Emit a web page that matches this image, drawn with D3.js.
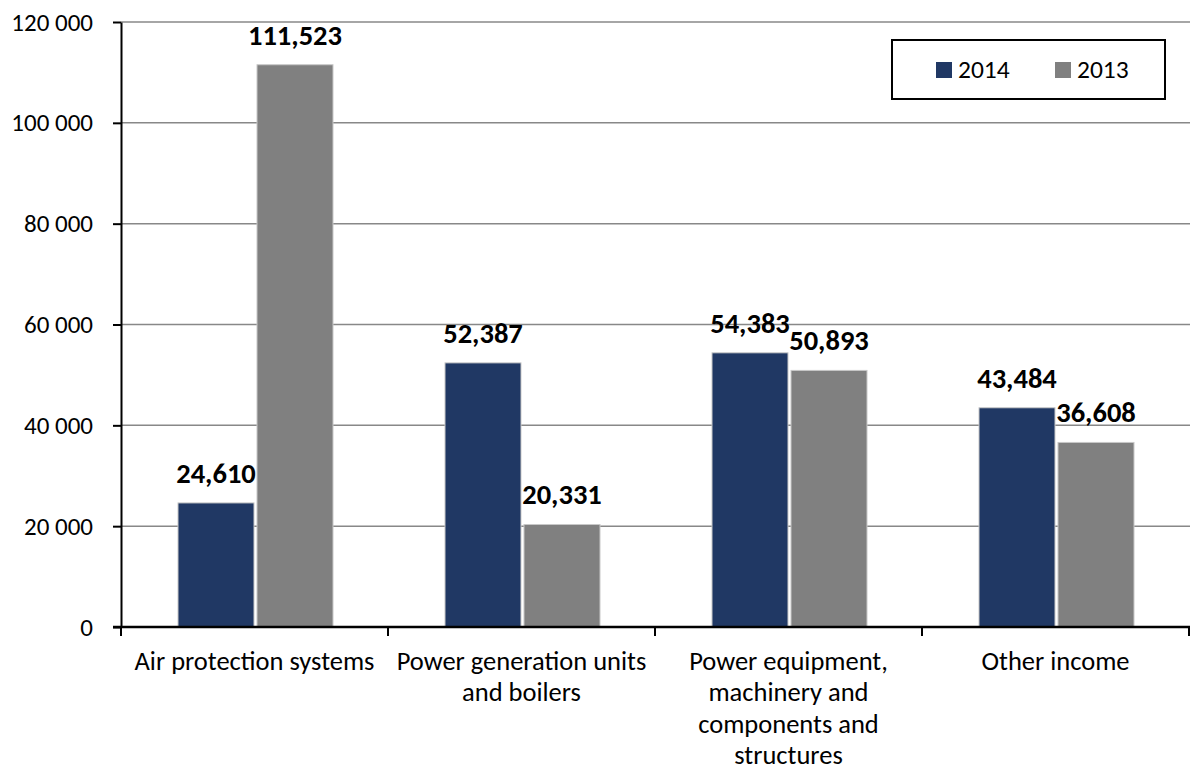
<!DOCTYPE html>
<html lang="en">
  <head>
    <meta charset="UTF-8" />
    <script src="https://cdn.jsdelivr.net/npm/d3@7"></script>
    <title>Revenue by segment</title>
    <style>
      body {
        margin: 0;
        background: #fff;
      }
      svg text {
        font-family: Carlito, 'Open Sans', sans-serif;
        fill: #000;
      }
    </style>
  </head>
  <body>
    <script>
      // data
      var categories = [
        'Air protection systems',
        'Power generation units\nand boilers',
        'Power equipment,\nmachinery and\ncomponents and\nstructures',
        'Other income'
      ]
      var series = ['2014', '2013']
      var values2014 = [24610, 52387, 54383, 43484]
      var values2013 = [111523, 20331, 50893, 36608]
      var yTicks = [0, 20000, 40000, 60000, 80000, 100000, 120000]
      var colors = ['#203864', '#808080']

      var width = 1190
      var height = 771

      var svg = d3
        .select('body')
        .append('svg')
        .attr('width', width)
        .attr('height', height)

      var x0 = d3.scaleBand().domain(categories).range([121, 1189]).padding(0)
      var x1 = d3
        .scaleBand()
        .domain(series)
        .range([57, 212])
        .paddingInner(0.038)
      var y = d3.scaleLinear().domain([0, 120000]).range([627, 22])

      var spaceFmt = d3.formatLocale({
        decimal: '.',
        thousands: ' ',
        grouping: [3],
        currency: ['', '']
      }).format(',d')
      var labelFmt = d3.format(',')

      // gridlines
      svg
        .append('g')
        .selectAll('line')
        .data(yTicks.slice(1))
        .enter()
        .append('line')
        .attr('x1', 121)
        .attr('x2', width)
        .attr('y1', function (d) { return y(d) })
        .attr('y2', function (d) { return y(d) })
        .attr('stroke', '#888')
        .attr('stroke-width', 1.5)

      // bars
      var rows = categories.map(function (c, i) {
        return { cat: c, vals: [values2014[i], values2013[i]] }
      })

      var groups = svg
        .selectAll('.grp')
        .data(rows)
        .enter()
        .append('g')
        .attr('class', 'grp')
        .attr('transform', function (d) {
          return 'translate(' + x0(d.cat) + ',0)'
        })

      groups
        .selectAll('rect')
        .data(function (d) {
          return d.vals.map(function (v, j) {
            return { s: series[j], v: v, j: j }
          })
        })
        .enter()
        .append('rect')
        .attr('x', function (d) { return x1(d.s) })
        .attr('y', function (d) { return y(d.v) })
        .attr('width', x1.bandwidth())
        .attr('height', function (d) { return y(0) - y(d.v) })
        .attr('fill', function (d) { return colors[d.j] })
        .attr('stroke', '#c8c8c8')
        .attr('stroke-width', 1)

      groups
        .selectAll('text')
        .data(function (d) {
          return d.vals.map(function (v, j) {
            return { s: series[j], v: v }
          })
        })
        .enter()
        .append('text')
        .attr('x', function (d) { return x1(d.s) + x1.bandwidth() / 2 })
        .attr('y', function (d) { return y(d.v) - 20 })
        .attr('text-anchor', 'middle')
        .attr('font-size', 28.5)
        .attr('font-weight', 'bold')
        .text(function (d) { return labelFmt(d.v) })

      // y axis
      var yAxis = d3
        .axisLeft(y)
        .tickValues(yTicks)
        .tickSize(8)
        .tickSizeOuter(0)
        .tickPadding(20)
        .tickFormat(spaceFmt)

      var gy = svg
        .append('g')
        .attr('transform', 'translate(121,0)')
        .call(yAxis)
      gy.select('.domain').attr('stroke', '#000').attr('stroke-width', 2)
      gy.selectAll('.tick line').attr('stroke', '#000').attr('stroke-width', 2)
      gy.selectAll('text')
        .attr('font-size', 25)
        .attr('font-family', 'Carlito, "Open Sans", sans-serif')
        .attr('fill', '#000')

      // x axis
      var gx = svg.append('g')
      gx.append('line')
        .attr('x1', 113)
        .attr('x2', width)
        .attr('y1', y(0))
        .attr('y2', y(0))
        .attr('stroke', '#000')
        .attr('stroke-width', 2.5)

      gx.selectAll('.xtick')
        .data(categories.map(function (c) { return x0(c) }).concat([x0.range()[1]]))
        .enter()
        .append('line')
        .attr('class', 'xtick')
        .attr('x1', function (d) { return d })
        .attr('x2', function (d) { return d })
        .attr('y1', y(0))
        .attr('y2', y(0) + 9)
        .attr('stroke', '#000')
        .attr('stroke-width', 2)

      var xl = gx
        .selectAll('.xlab')
        .data(categories)
        .enter()
        .append('text')
        .attr('class', 'xlab')
        .attr('text-anchor', 'middle')
        .attr('font-size', 26.5)

      xl.selectAll('tspan')
        .data(function (d) {
          return d.split('\n').map(function (t) { return { t: t, c: d } })
        })
        .enter()
        .append('tspan')
        .attr('x', function (d) { return x0(d.c) + x0.bandwidth() / 2 })
        .attr('y', function (d, i) { return y(0) + 43 + i * 31.3 })
        .text(function (d) { return d.t })

      // legend
      var lg = svg.append('g')
      lg.append('rect')
        .attr('x', 892)
        .attr('y', 40)
        .attr('width', 273)
        .attr('height', 59)
        .attr('fill', '#fff')
        .attr('stroke', '#000')
        .attr('stroke-width', 2)

      var items = lg
        .selectAll('.item')
        .data(series)
        .enter()
        .append('g')
        .attr('transform', function (d, i) {
          return 'translate(' + (936 + i * 119) + ',62)'
        })
      items.append('rect')
        .attr('width', 16)
        .attr('height', 16)
        .attr('fill', function (d, i) { return colors[i] })
      items.append('text')
        .attr('x', 22)
        .attr('y', 15.5)
        .attr('font-size', 25.5)
        .text(function (d) { return d })
    </script>
  </body>
</html>
